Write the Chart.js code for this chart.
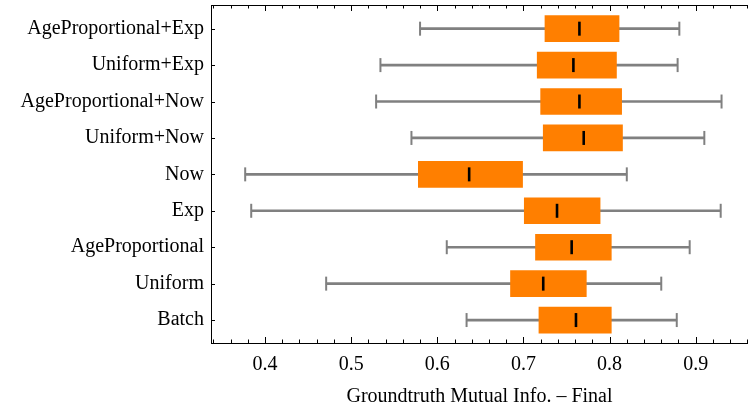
<!DOCTYPE html>
<html>
<head>
<meta charset="utf-8">
<script src="https://cdn.jsdelivr.net/npm/chart.js@4/dist/chart.umd.min.js"></script>
<style>
  html, body { margin: 0; padding: 0; background: #ffffff; }
  #wrap { width: 748px; height: 413px; }
</style>
</head>
<body>
<div id="wrap"><canvas id="c" width="748" height="413"></canvas></div>
<script>
// ---- data ----
const categories = ["AgeProportional+Exp", "Uniform+Exp", "AgeProportional+Now", "Uniform+Now",
                    "Now", "Exp", "AgeProportional", "Uniform", "Batch"];
const whiskerLow  = [0.580, 0.534, 0.529, 0.570, 0.377, 0.384, 0.611, 0.471, 0.634];
const quartileLow = [0.725, 0.716, 0.720, 0.723, 0.578, 0.701, 0.714, 0.685, 0.718];
const medians     = [0.765, 0.758, 0.765, 0.770, 0.637, 0.739, 0.756, 0.723, 0.761];
const quartileHigh= [0.811, 0.808, 0.814, 0.815, 0.699, 0.789, 0.802, 0.773, 0.802];
const whiskerHigh = [0.881, 0.879, 0.930, 0.910, 0.820, 0.929, 0.893, 0.860, 0.878];
const xTickValues = [0.4, 0.5, 0.6, 0.7, 0.8, 0.9];
const xTitle = "Groundtruth Mutual Info. \u2013 Final";

const FONT = "'Liberation Serif', 'Times New Roman', serif";
const ORANGE = "#ff7f00";
const GREY = "#808080";

const idx = categories.map((_, i) => i);

// inward tick marks on the frame (drawn through the scales)
const frameTicks = {
  id: 'frameTicks',
  afterDraw(chart) {
    const {ctx, chartArea: a, scales: {x, y}} = chart;
    ctx.save();
    ctx.strokeStyle = '#000';
    ctx.lineWidth = 1;
    // top frame line
    ctx.beginPath();
    ctx.moveTo(a.left, a.top + 0.5);
    ctx.lineTo(a.right, a.top + 0.5);
    ctx.stroke();
    // x ticks every 0.02, major every 0.1
    for (let k = 17; k <= 48; k++) {
      const v = k / 50;
      const px = Math.round(x.getPixelForValue(v)) + 0.5;
      if (px < a.left || px > a.right) continue;
      const major = (k % 5 === 0);
      const len = major ? 6 : 3.5;
      ctx.beginPath();
      ctx.moveTo(px, a.bottom);
      ctx.lineTo(px, a.bottom - len);
      ctx.moveTo(px, a.top);
      ctx.lineTo(px, a.top + len);
      ctx.stroke();
    }
    // y ticks at each category
    idx.forEach(i => {
      const py = Math.round(y.getPixelForValue(i)) + 0.5;
      ctx.beginPath();
      ctx.moveTo(a.left, py);
      ctx.lineTo(a.left + 4, py);
      ctx.stroke();
    });
    ctx.restore();
  }
};

new Chart(document.getElementById('c'), {
  type: 'bar',
  data: {
    datasets: [
      {
        type: 'scatter',
        label: 'median',
        data: idx.map(i => ({x: medians[i], y: i})),
        pointStyle: 'line',
        rotation: 90,
        radius: 7,
        borderColor: '#000',
        borderWidth: 2.6,
        order: 0
      },
      {
        type: 'scatter',
        label: 'caps',
        data: idx.flatMap(i => [{x: whiskerLow[i], y: i}, {x: whiskerHigh[i], y: i}]),
        pointStyle: 'line',
        rotation: 90,
        radius: 7,
        borderColor: GREY,
        borderWidth: 2,
        order: 1
      },
      {
        label: 'box',
        data: idx.map(i => ({x: [quartileLow[i], quartileHigh[i]], y: i})),
        backgroundColor: ORANGE,
        borderWidth: 0,
        barThickness: 26,
        grouped: false,
        order: 2
      },
      {
        label: 'whisker',
        data: idx.map(i => ({x: [whiskerLow[i], whiskerHigh[i]], y: i})),
        backgroundColor: GREY,
        borderWidth: 0,
        barThickness: 2,
        grouped: false,
        order: 3
      }
    ]
  },
  options: {
    indexAxis: 'y',
    responsive: false,
    devicePixelRatio: 1,
    animation: false,
    events: [],
    layout: { autoPadding: false, padding: { top: 5, right: 0, bottom: 0, left: 0 } },
    plugins: { legend: { display: false }, tooltip: { enabled: false } },
    scales: {
      x: {
        type: 'linear',
        position: 'bottom',
        min: 0.33731,
        max: 0.9607,
        offset: false,
        grid: { display: false, drawTicks: false, offset: false },
        border: { display: true, color: '#000', width: 1 },
        afterBuildTicks: s => { s.ticks = xTickValues.map(v => ({value: v})); },
        afterFit: s => { s.height = 70; s.paddingLeft = 0; s.paddingRight = 0; },
        ticks: {
          color: '#000',
          font: { family: FONT, size: 20 },
          padding: 10,
          maxRotation: 0,
          autoSkip: false,
          callback: v => Number(v).toFixed(1)
        },
        title: {
          display: true,
          text: xTitle,
          color: '#000',
          font: { family: FONT, size: 20 },
          padding: { top: 0, bottom: 4 }
        }
      },
      y: {
        type: 'linear',
        reverse: true,
        min: -0.65,
        max: 8.63,
        offset: false,
        grid: { display: false, drawTicks: false, offset: false },
        border: { display: true, color: '#000', width: 1 },
        afterBuildTicks: s => { s.ticks = idx.map(i => ({value: i})); },
        afterFit: s => { s.width = 211; s.paddingTop = 0; s.paddingBottom = 0; },
        ticks: {
          color: '#000',
          font: { family: FONT, size: 20 },
          padding: 7,
          autoSkip: false,
          callback: v => categories[v]
        }
      }
    }
  },
  plugins: [frameTicks]
});
</script>
</body>
</html>
